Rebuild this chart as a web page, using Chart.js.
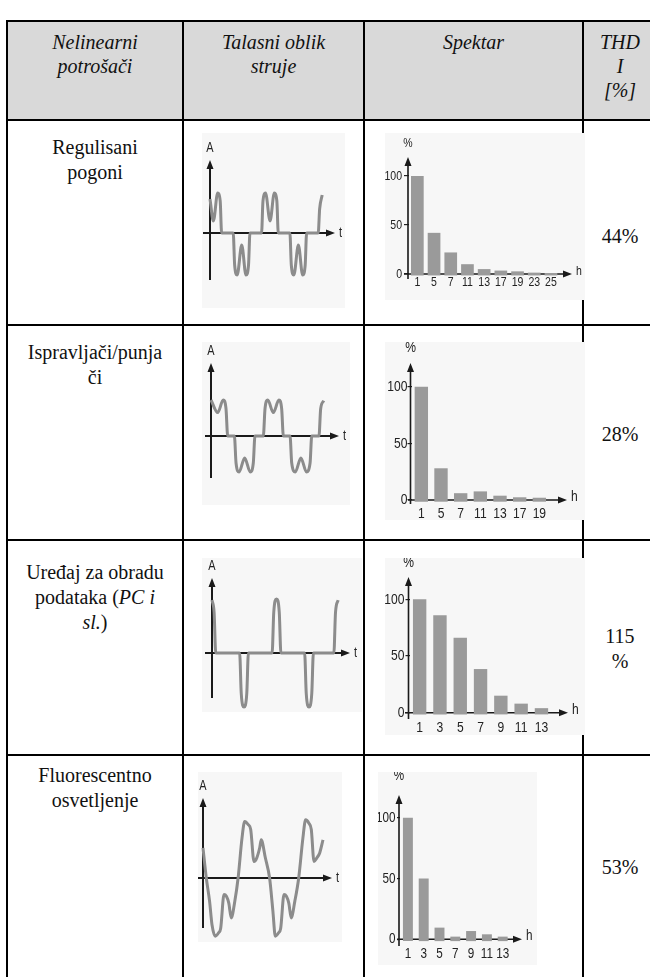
<!DOCTYPE html>
<html>
<head>
<meta charset="utf-8">
<title>Nelinearni potrošači</title>
<script src="https://cdn.jsdelivr.net/npm/chart.js"></script>
<style>
body { margin: 0; width: 650px; height: 977px; position: relative; overflow: hidden; background: #fff;
       font-family: "Liberation Serif", "Times New Roman", "DejaVu Serif", serif; color: #111; }
.ln { position: absolute; background: #000; }
.head { position: absolute; left: 7px; top: 21px; width: 643px; height: 99px; background: #d9d9d9; }
.txt { position: absolute; text-align: center; font-size: 20px; line-height: 25px; white-space: nowrap; }
.hd { font-style: italic; line-height: 24px; top: 30px; }
canvas { position: absolute; background: #f7f7f7; }
</style>
</head>
<body>
<div class="head"></div>

<!-- table lines -->
<div class="ln" style="left:6px;top:20px;width:644px;height:2px"></div>
<div class="ln" style="left:6px;top:119px;width:644px;height:2px"></div>
<div class="ln" style="left:6px;top:324px;width:644px;height:2px"></div>
<div class="ln" style="left:6px;top:539px;width:644px;height:2px"></div>
<div class="ln" style="left:6px;top:754px;width:644px;height:2px"></div>
<div class="ln" style="left:6px;top:20px;width:2px;height:957px"></div>
<div class="ln" style="left:182px;top:20px;width:2px;height:957px"></div>
<div class="ln" style="left:363px;top:20px;width:2px;height:957px"></div>
<div class="ln" style="left:582px;top:20px;width:2px;height:957px"></div>

<!-- header -->
<div class="txt hd" style="left:7px;width:176px">Nelinearni<br>potrošači</div>
<div class="txt hd" style="left:183px;width:181px">Talasni oblik<br>struje</div>
<div class="txt hd" style="left:364px;width:219px">Spektar</div>
<div class="txt hd" style="left:583px;width:74px">THD<br>I<br>[%]</div>

<!-- first column -->
<div class="txt" style="left:7px;width:176px;top:135px">Regulisani<br>pogoni</div>
<div class="txt" style="left:7px;width:176px;top:340px">Ispravljači/punja<br>či</div>
<div class="txt" style="left:7px;width:176px;top:560px">Uređaj za obradu<br>podataka (<i>PC i</i><br><i>sl.</i>)</div>
<div class="txt" style="left:7px;width:176px;top:763px">Fluorescentno<br>osvetljenje</div>

<!-- THD column -->
<div class="txt" style="left:583px;width:74px;top:224px">44%</div>
<div class="txt" style="left:583px;width:74px;top:422px">28%</div>
<div class="txt" style="left:583px;width:74px;top:624px">115<br>%</div>
<div class="txt" style="left:583px;width:74px;top:855px">53%</div>

<canvas id="w1"></canvas><canvas id="w2"></canvas><canvas id="w3"></canvas><canvas id="w4"></canvas>
<canvas id="s1"></canvas><canvas id="s2"></canvas><canvas id="s3"></canvas><canvas id="s4"></canvas>

<script>
// waveforms: time in ms, current relative to the peak
const wave1Time = [0, 1.2, 2.7, 3.6, 4.1, 8.2, 8.7, 9.6, 11.2, 12.7, 13.6, 14.1, 18.2, 18.7, 19.6, 21.2, 22.7, 23.6, 24.1, 28.2, 28.7, 29.6, 31.2, 32.7, 33.6, 34.1, 38.2, 38.7, 39.6];
const wave1Current = [0.85, 0.3, 1.0, 0.8, 0, 0, -0.8, -1.05, -0.3, -1.05, -0.8, 0, 0, 0.8, 1.0, 0.3, 1.0, 0.8, 0, 0, -0.8, -1.05, -0.3, -1.05, -0.8, 0, 0, 0.6, 0.95];

const wave2Time = [0, 2.4, 4.4, 5.4, 6.0, 8.4, 9.0, 10.1, 12.1, 14.1, 15.2, 15.8, 18.8, 19.4, 20.4, 22.4, 24.4, 25.4, 26.0, 28.4, 29.0, 30.3, 32.3, 34.3, 35.6, 36.2, 38.8, 39.4, 40.5];
const wave2Current = [1.0, 0.65, 1.0, 0.75, 0, 0, -0.75, -1.0, -0.61, -1.0, -0.75, 0, 0, 0.75, 1.0, 0.65, 1.0, 0.75, 0, 0, -0.75, -1.0, -0.61, -1.0, -0.75, 0, 0, 0.75, 0.98];

const wave3Time = [0, 0.65, 1.15, 8.5, 9.0, 9.85, 10.7, 11.2, 18.5, 19.0, 19.85, 20.7, 21.2, 28.5, 29.0, 29.85, 30.7, 31.2, 37.5, 38.0, 38.8];
const wave3Current = [0.98, 0.75, 0, 0, -0.75, -1.0, -0.75, 0, 0, 0.75, 1.0, 0.75, 0, 0, -0.75, -1.0, -0.75, 0, 0, 0.75, 0.98];

const wave4Time = [0, 1.1, 2.2, 3.0, 4.1, 5.2, 5.9, 7.0, 7.8, 8.6, 9.4, 10.6, 11.7, 13.0, 13.9, 15.0, 15.9, 17.0, 17.9, 18.9, 19.4, 20.8, 22.2, 23.3, 24.1, 25.2, 25.9, 27.0, 27.8, 28.6, 29.4, 30.6, 31.9, 33.3, 34.2, 35.3, 36.1, 37.0, 37.9, 38.9, 40.0];
const wave4Current = [0.53, 0, -0.41, -0.82, -1.02, -0.96, -0.88, -0.29, -0.32, -0.44, -0.7, -0.41, 0, 0.7, 0.99, 0.94, 0.85, 0.29, 0.35, 0.53, 0.67, 0.35, 0, -0.58, -1.02, -0.96, -0.88, -0.29, -0.32, -0.44, -0.7, -0.41, 0, 0.7, 1.02, 0.96, 0.85, 0.29, 0.35, 0.44, 0.67];

// spectra: harmonic order and amplitude in %
const spectrum1Harmonics = ['1', '5', '7', '11', '13', '17', '19', '23', '25'];
const spectrum1Values = [100, 42, 22, 10, 5, 3.5, 2.7, 1.4, 1];
const spectrum2Harmonics = ['1', '5', '7', '11', '13', '17', '19'];
const spectrum2Values = [100, 28, 6, 7.6, 3.8, 2.4, 2];
const spectrum3Harmonics = ['1', '3', '5', '7', '9', '11', '13'];
const spectrum3Values = [100, 86, 66, 38.5, 15, 8, 4];
const spectrum4Harmonics = ['1', '3', '5', '7', '9', '11', '13'];
const spectrum4Values = [100, 50, 9.6, 2.2, 6.8, 4.1, 2.2];

const sans = "'Liberation Sans', Arial, Helvetica, sans-serif";

// where each picture sits on the page (px)
const waveLayouts = [
    { id: 'w1', box: [202, 133, 143, 175], origin: [210, 233], msPx: 2.833, unitPx: 40, axis: { left: 203, right: 335, top: 160, bottom: 280 } },
    { id: 'w2', box: [202, 342, 148, 163], origin: [211, 436], msPx: 2.783, unitPx: 36, axis: { left: 205, right: 339, top: 363, bottom: 478 } },
    { id: 'w3', box: [202, 558, 160, 154], origin: [212, 653], msPx: 3.25, unitPx: 54, axis: { left: 205, right: 350, top: 578, bottom: 698 } },
    { id: 'w4', box: [198, 772, 144, 170], origin: [203, 878], msPx: 3.0, unitPx: 57, axis: { left: 197, right: 332, top: 798, bottom: 928 } }
];
const spectrumLayouts = [
    { id: 's1', box: [385, 133, 200, 167], left: 409, catPx: 16.7, y100: 176, y0: 274, axis: { left: 404, right: 572, top: 157, bottom: 279 }, font: 13.5, xGap: 8, yGap: 7, bar: 0.76, tick: 5, pctGap: 14 },
    { id: 's2', box: [385, 342, 200, 178], left: 411.5, catPx: 19.67, y100: 386.7, y0: 500, axis: { left: 408, right: 567, top: 363, bottom: 504 }, font: 15.5, xGap: 14, yGap: 4, bar: 0.68, tick: 4, pctGap: 15 },
    { id: 's3', box: [385, 558, 200, 177], left: 409.5, catPx: 20.3, y100: 599.3, y0: 712.7, axis: { left: 405, right: 568, top: 577, bottom: 719 }, font: 15.5, xGap: 15.5, yGap: 5, bar: 0.66, tick: 4, pctGap: 14 },
    { id: 's4', box: [378, 772, 159, 193], left: 400, catPx: 15.8, y100: 817.7, y0: 939.3, axis: { left: 397, right: 522, top: 795, bottom: 946 }, font: 15, xGap: 15, yGap: 4.5, bar: 0.63, tick: 3, pctGap: 19 }
];

// axes with arrow heads, drawn under the marks
const arrowAxes = {
    id: 'arrowAxes',
    beforeDatasetsDraw(chart, args, o) {
        const ctx = chart.ctx;
        const ax = o.atLeft ? chart.chartArea.left - 1 : chart.scales.x.getPixelForValue(0);
        const ay = chart.scales.y.getPixelForValue(0);
        const hl = 9, hw = 3.5;
        ctx.save();
        ctx.strokeStyle = '#1a1a1a';
        ctx.fillStyle = '#1a1a1a';
        ctx.lineWidth = o.lw;
        ctx.beginPath();
        ctx.moveTo(ax, o.bottom);
        ctx.lineTo(ax, o.top + hl - 1);
        ctx.moveTo(o.left, ay);
        ctx.lineTo(o.right - hl + 1, ay);
        ctx.stroke();
        ctx.beginPath();
        ctx.moveTo(ax, o.top);
        ctx.lineTo(ax - hw, o.top + hl);
        ctx.lineTo(ax + hw, o.top + hl);
        ctx.closePath();
        ctx.moveTo(o.right, ay);
        ctx.lineTo(o.right - hl, ay - hw);
        ctx.lineTo(o.right - hl, ay + hw);
        ctx.closePath();
        ctx.fill();
        ctx.fillStyle = '#222';
        ctx.textBaseline = 'middle';
        narrowText(ctx, o.yLabel, ax, o.top - o.yGap, 'center', o.labelSize);
        narrowText(ctx, o.xLabel, o.right + 4, ay + o.xDy, 'left', o.labelSize);
        ctx.restore();
    }
};

// condensed tick labels for the spectra, placed from the chart's own scales
const narrowTicks = {
    id: 'narrowTicks',
    afterDraw(chart, args, o) {
        if (!o.size) return;
        const ctx = chart.ctx;
        const xs = chart.scales.x, ys = chart.scales.y;
        ctx.save();
        ctx.fillStyle = '#222';
        ctx.textBaseline = 'middle';
        xs.ticks.forEach((t, i) => {
            narrowText(ctx, xs.getLabelForValue(t.value), xs.getPixelForTick(i), ys.bottom + o.xGap, 'center', o.size);
        });
        ys.ticks.forEach(t => {
            narrowText(ctx, String(t.value), chart.chartArea.left - o.yGap, ys.getPixelForValue(t.value), 'right', o.size);
        });
        ctx.restore();
    }
};

function narrowText(ctx, s, x, y, align, size) {
    ctx.save();
    ctx.translate(x, y);
    ctx.scale(0.78, 1);
    ctx.font = size + 'px ' + sans;
    ctx.textAlign = align;
    ctx.fillText(s, 0, 0);
    ctx.restore();
}

function placeCanvas(id, box) {
    const c = document.getElementById(id);
    c.width = box[2];
    c.height = box[3];
    c.style.left = box[0] + 'px';
    c.style.top = box[1] + 'px';
    c.style.width = box[2] + 'px';
    c.style.height = box[3] + 'px';
    return c;
}

function drawWave(L, times, currents) {
    const c = placeCanvas(L.id, L.box);
    const [bx, by, bw, bh] = L.box;
    const [ox, oy] = L.origin;
    new Chart(c, {
        type: 'line',
        data: {
            datasets: [{
                data: times.map((t, i) => ({ x: t, y: currents[i] })),
                borderColor: '#8c8c8c',
                borderWidth: 3,
                pointRadius: 0,
                cubicInterpolationMode: 'monotone',
                clip: false
            }]
        },
        options: {
            responsive: false,
            animation: false,
            events: [],
            layout: { padding: 0 },
            plugins: {
                legend: { display: false },
                tooltip: { enabled: false },
                arrowAxes: {
                    left: L.axis.left - bx, right: L.axis.right - bx,
                    top: L.axis.top - by, bottom: L.axis.bottom - by,
                    lw: 2, yLabel: 'A', xLabel: 't', labelSize: 14, yGap: 12, xDy: 0
                }
            },
            scales: {
                x: { type: 'linear', display: false, min: (bx - ox) / L.msPx, max: (bx + bw - ox) / L.msPx },
                y: { display: false, min: (oy - (by + bh)) / L.unitPx, max: (oy - by) / L.unitPx }
            }
        },
        plugins: [arrowAxes]
    });
}

function drawSpectrum(L, harmonics, values) {
    const c = placeCanvas(L.id, L.box);
    const [bx, by, bw, bh] = L.box;
    const right = L.left + harmonics.length * L.catPx;
    new Chart(c, {
        type: 'bar',
        data: {
            labels: harmonics,
            datasets: [{
                data: values,
                backgroundColor: '#9a9a9a',
                borderWidth: 0,
                base: -1.5,
                clip: false,
                barPercentage: L.bar,
                categoryPercentage: 1
            }]
        },
        options: {
            responsive: false,
            animation: false,
            events: [],
            layout: { padding: { left: 0, top: L.y100 - by, right: bx + bw - right, bottom: 0 } },
            plugins: {
                legend: { display: false },
                tooltip: { enabled: false },
                arrowAxes: {
                    atLeft: true,
                    left: L.axis.left - bx, right: L.axis.right - bx,
                    top: L.axis.top - by, bottom: L.axis.bottom - by,
                    lw: 1.6, yLabel: '%', xLabel: 'h', labelSize: L.font, yGap: L.pctGap, xDy: -3
                },
                narrowTicks: { size: L.font, xGap: L.xGap, yGap: L.yGap }
            },
            scales: {
                x: {
                    grid: { display: false, drawTicks: false },
                    border: { display: false },
                    ticks: { display: false },
                    afterFit: s => { s.height = by + bh - L.y0; }
                },
                y: {
                    min: 0, max: 100,
                    grid: { display: true, drawOnChartArea: false, drawTicks: true, tickLength: L.tick, color: '#222', lineWidth: 1.2 },
                    border: { display: false },
                    ticks: { display: false, stepSize: 50 },
                    afterFit: s => { s.width = L.left - bx; }
                }
            }
        },
        plugins: [arrowAxes, narrowTicks]
    });
}

drawWave(waveLayouts[0], wave1Time, wave1Current);
drawWave(waveLayouts[1], wave2Time, wave2Current);
drawWave(waveLayouts[2], wave3Time, wave3Current);
drawWave(waveLayouts[3], wave4Time, wave4Current);

drawSpectrum(spectrumLayouts[0], spectrum1Harmonics, spectrum1Values);
drawSpectrum(spectrumLayouts[1], spectrum2Harmonics, spectrum2Values);
drawSpectrum(spectrumLayouts[2], spectrum3Harmonics, spectrum3Values);
drawSpectrum(spectrumLayouts[3], spectrum4Harmonics, spectrum4Values);
</script>
</body>
</html>
